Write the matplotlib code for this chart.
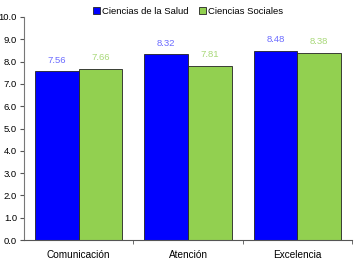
import numpy as np
import matplotlib
matplotlib.use("Agg")
import matplotlib.pyplot as plt

categories = ["Comunicación", "Atención", "Excelencia"]
salud = [7.56, 8.32, 8.48]
sociales = [7.66, 7.81, 8.38]
series_names = ["Ciencias de la Salud", "Ciencias Sociales"]

plt.rcParams['font.family'] = ['Liberation Sans', 'DejaVu Sans']

fig = plt.figure(figsize=(3.55, 2.6), dpi=100)
ax = fig.add_axes([24/355, 20/260, 328/355, 223/260])

x = np.arange(len(categories))
w = 0.4
b1 = ax.bar(x - w/2, salud, w, color="#0000ff", edgecolor="#222222", linewidth=0.6, label=series_names[0])
b2 = ax.bar(x + w/2, sociales, w, color="#92d050", edgecolor="#222222", linewidth=0.6, label=series_names[1])

for rect, v in zip(b1, salud):
    ax.text(rect.get_x() + rect.get_width()/2, v + 0.3, f"{v:.2f}", ha="center", va="bottom",
            fontsize=6.8, color="#6b6bff")
for rect, v in zip(b2, sociales):
    ax.text(rect.get_x() + rect.get_width()/2, v + 0.3, f"{v:.2f}", ha="center", va="bottom",
            fontsize=6.8, color="#a8d878")

ax.set_xlim(-0.5, 2.5)
ax.set_ylim(0, 10)
ax.set_yticks(np.arange(0, 10.1, 1.0))
ax.set_yticklabels([f"{t:.1f}" for t in np.arange(0, 10.1, 1.0)], fontsize=6.8)
ax.set_xticks(x)
ax.set_xticklabels(categories, fontsize=7.2)
ax.tick_params(axis="x", length=0, pad=7)
ax.set_xticks([0.5, 1.5, 2.5], minor=True)
ax.tick_params(axis="x", which="minor", length=3, color="#555555")
ax.tick_params(axis="y", length=3, color="#555555", pad=2)

for s in ["top", "right"]:
    ax.spines[s].set_visible(False)
ax.spines["left"].set_color("#777777")
ax.spines["bottom"].set_color("#555555")

ax.legend(loc="center", bbox_to_anchor=(0.5, 1.025), ncol=2, frameon=False,
          fontsize=6.8, handlelength=0.7, handleheight=0.7, handletextpad=0.2,
          columnspacing=1.2, borderaxespad=0)

fig.savefig("out.png", dpi=100)
